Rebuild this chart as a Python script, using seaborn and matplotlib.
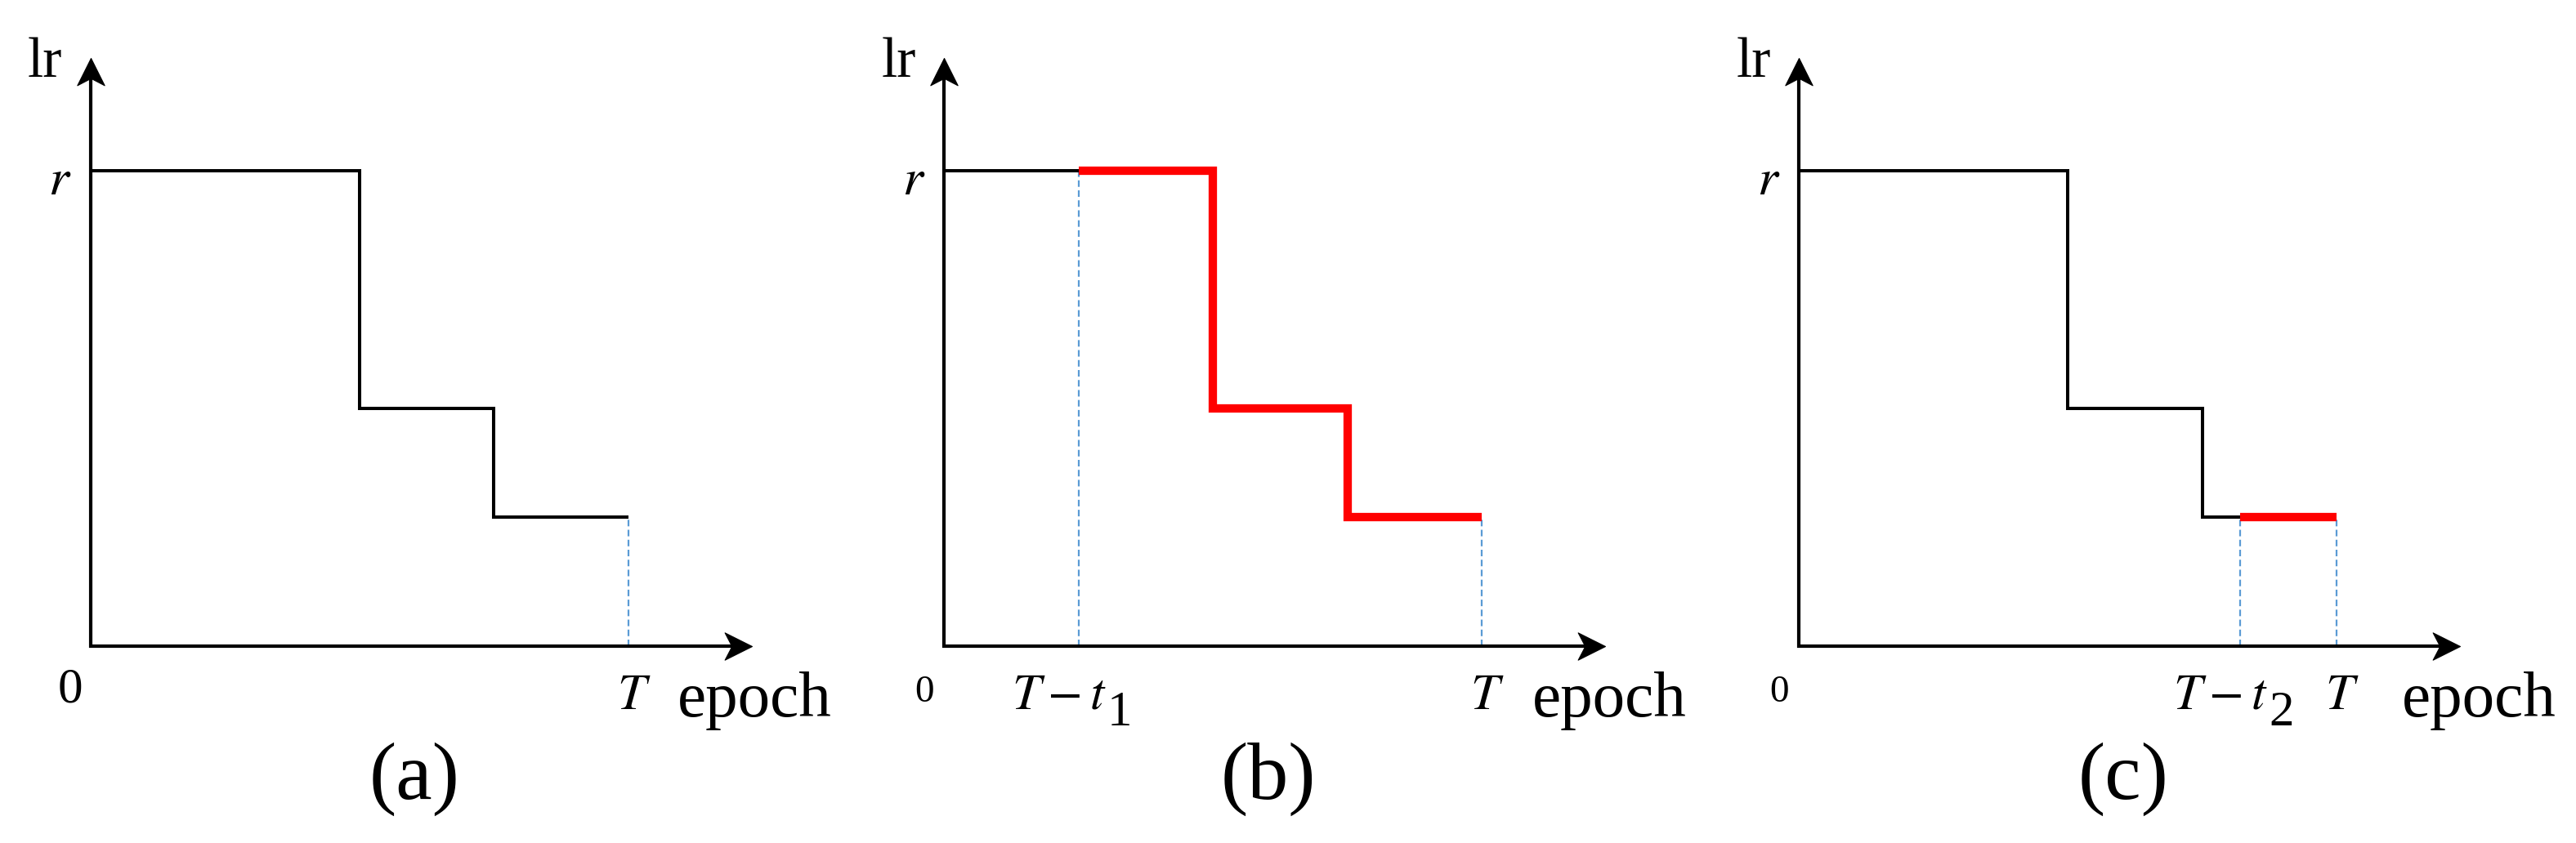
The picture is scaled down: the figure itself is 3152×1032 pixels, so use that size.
import numpy as np
import pandas as pd
import matplotlib
matplotlib.use("Agg")
import matplotlib.pyplot as plt
from matplotlib.path import Path
from matplotlib.transforms import Affine2D
import seaborn as sns

# ---------------- data ----------------
boundaries = [0.0, 0.5, 0.75, 1.0]          # epoch where each lr level starts (T = 1)
levels = [1.0, 0.5, 0.27]                    # lr level (r = 1)
panel_tags = ["(a)", "(b)", "(c)"]
highlight_start = [None, 0.25, 0.821]        # T - t1, T - t2
highlight_base = [None, r"$T-t$", r"$T-t$"]
highlight_sub = [None, "1", "2"]
x_end_label = r"$T$"
y_top_label = r"$r$"
origin_label = "0"
x_axis_name = "epoch"
y_axis_name = "lr"

# ---------------- style ----------------
sns.set_theme(style="white")
plt.rcParams["font.family"] = ["Liberation Serif", "DejaVu Serif"]
plt.rcParams["mathtext.fontset"] = "stix"
plt.rcParams["text.color"] = "black"

W, H, DPI = 3152, 1032, 100
fig = plt.figure(figsize=(W / DPI, H / DPI), dpi=DPI)

origins_px = [110.7, 1155.0, 2201.0]
oy_px = 790.5
ux, uy = 658.0, 581.5
xlim = (-0.15, 1.40)
ylim = (-0.38, 1.30)

BLACK_LW = 2.9
RED_LW = 7.4
AXIS_LW = 3.0
BLUE = "#5b9bd5"
RED = "#ff0000"

zero_sizes = [44, 34, 34]
epoch_x = [1.092, 1.094, 1.122]

# notched arrow head marker (tip at origin, pointing +x)
head = Path([(0, 0), (-1.0, 0.5), (-0.74, 0), (-1.0, -0.5), (0, 0)],
            [Path.MOVETO, Path.LINETO, Path.LINETO, Path.LINETO, Path.CLOSEPOLY])
head_up = head.transformed(Affine2D().rotate_deg(90))


def level_at(x):
    idx = np.searchsorted(boundaries, x, side="right") - 1
    idx = min(max(idx, 0), len(levels) - 1)
    return levels[idx]


def segment(start, end):
    xs = [start] + [b for b in boundaries if start < b < end] + [end]
    ys = [level_at(x) for x in xs[:-1]]
    ys.append(ys[-1])
    return pd.DataFrame({"epoch": xs, "lr": ys})


for i, ox in enumerate(origins_px):
    left = (ox + xlim[0] * ux) / W
    width = (xlim[1] - xlim[0]) * ux / W
    top_px = oy_px - ylim[1] * uy
    bottom_px = oy_px - ylim[0] * uy
    ax = fig.add_axes([left, 1 - bottom_px / H, width, (bottom_px - top_px) / H])
    ax.set_xlim(*xlim)
    ax.set_ylim(*ylim)
    ax.axis("off")

    hs = highlight_start[i]
    T = boundaries[-1]
    black_end = T if hs is None else hs
    df_black = segment(0.0, black_end)
    sns.lineplot(data=df_black, x="epoch", y="lr", ax=ax, color="black",
                 lw=BLACK_LW, drawstyle="steps-post", estimator=None, sort=False,
                 solid_joinstyle="miter", solid_capstyle="butt", zorder=3)
    if hs is not None:
        df_red = segment(hs, T)
        sns.lineplot(data=df_red, x="epoch", y="lr", ax=ax, color=RED,
                     lw=RED_LW, drawstyle="steps-post", estimator=None, sort=False,
                     solid_joinstyle="miter", solid_capstyle="butt", zorder=4)

    # dashed guides
    guides = [T] + ([hs] if hs is not None else [])
    for g in guides:
        ax.plot([g, g], [0, level_at(min(g, T - 1e-9))], color=BLUE, lw=1.6,
                ls=(0, (3.6, 1.9)), zorder=2)

    # axes with arrow heads
    ax.plot([-0.003, 1.21], [0, 0], color="black", lw=AXIS_LW,
            solid_capstyle="butt", zorder=5)
    ax.plot([0, 0], [-0.0035, 1.215], color="black", lw=AXIS_LW,
            solid_capstyle="butt", zorder=5)
    ax.plot([1.23], [0], marker=head, markersize=48, color="black",
            mec="black", mew=0.8, zorder=6, clip_on=False)
    ax.plot([0], [1.238], marker=head_up, markersize=48, color="black",
            mec="black", mew=0.8, zorder=6, clip_on=False)

    # labels
    ax.text(-0.052, 1.198, y_axis_name, fontsize=50, ha="right", va="baseline")
    ax.text(-0.035, 0.95, y_top_label, fontsize=46, ha="right", va="baseline")
    ax.text(-0.037, -0.118, origin_label, fontsize=zero_sizes[i], ha="center",
            va="baseline")
    ax.text(1.011, -0.133, x_end_label, fontsize=45, ha="center", va="baseline")
    ax.text(epoch_x[i], -0.148, x_axis_name, fontsize=57, ha="left", va="baseline")
    if hs is not None:
        ax.text(hs + 0.052, -0.133, highlight_base[i], fontsize=45, ha="right",
                va="baseline")
        ax.text(hs + 0.053, -0.168, highlight_sub[i], fontsize=44, ha="left",
                va="baseline")
    ax.text(0.603, -0.28, panel_tags[i], fontsize=72, ha="center", va="center")

fig.savefig("out.png", dpi=DPI, facecolor="white")
